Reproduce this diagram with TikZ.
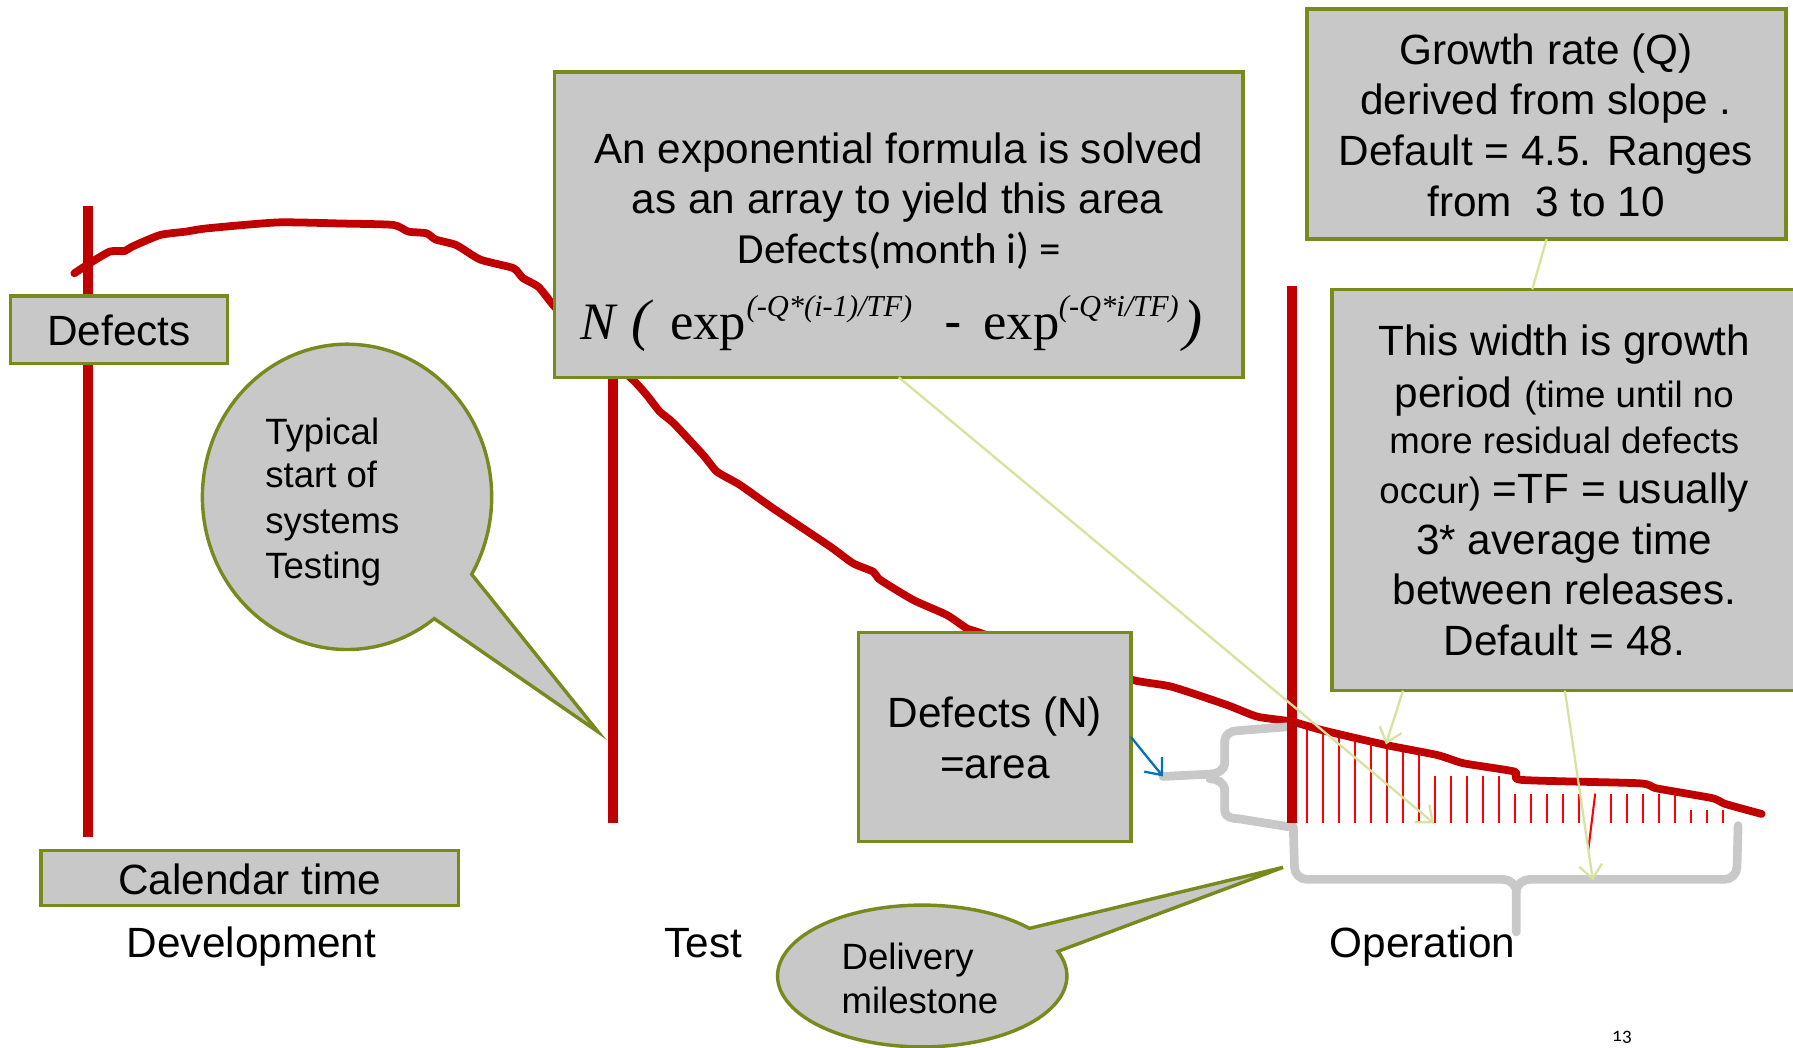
\documentclass[tikz,border=0pt]{standalone}
\usepackage{fontspec}
\setmainfont{Liberation Sans}
\newfontfamily\formfont{Liberation Serif}
\newfontfamily\notefont{Carlito}
\newfontfamily\pagefont[Numbers=OldStyle]{Carlito}
\usetikzlibrary{arrows.meta,calc}

\definecolor{curvered}{RGB}{192,0,0}
\definecolor{hatchred}{RGB}{255,0,0}
\definecolor{panelgray}{RGB}{200,200,200}
\definecolor{paneledge}{RGB}{120,138,30}
\definecolor{leadgreen}{RGB}{214,227,160}
\definecolor{pointerblue}{RGB}{0,112,192}

\newcommand\setsz[1]{\fontsize{#1pt}{#1pt}\selectfont}

\pgfdeclarelayer{background}
\pgfsetlayers{background,main}

\begin{document}
\begin{tikzpicture}[x=0.5pt,y=-0.5pt,
  graybox/.style={draw=paneledge,fill=panelgray,line width=1.5pt,inner sep=0pt,outer sep=0pt},
  bubble/.style={draw=paneledge,fill=panelgray,line width=1.5pt,line join=miter},
  txt/.style={inner sep=0pt,outer sep=0pt,anchor=base,font=\setsz{18.5}},
  txtl/.style={inner sep=0pt,outer sep=0pt,anchor=base west,font=\setsz{16}},
  frm/.style={inner sep=0pt,outer sep=0pt,anchor=base west},
  redaxis/.style={draw=curvered,line width=4.2pt},
  hatchline/.style={draw=hatchred,line width=0.9pt},
  leadline/.style={draw=leadgreen,line width=1pt},
  leadarrow/.style={leadline,-{Straight Barb[length=6pt,width=10pt]}},
  bracestroke/.style={draw=panelgray,line width=3.8pt,line cap=round,line join=round},
]
\useasboundingbox (0,0) rectangle (1568,916);

% ---------- boxes ----------
\node[graybox,minimum width=95pt,minimum height=29.5pt] (defbox) at (104,288.5) {};
\node[graybox,minimum width=182.5pt,minimum height=24pt] (calbox) at (218.5,768) {};
\node[graybox,minimum width=301pt,minimum height=133.5pt] (formbox) at (786,196.5) {};
\node[graybox,minimum width=209.5pt,minimum height=100.5pt] (growbox) at (1352.5,108.5) {};
\node[graybox,minimum width=203.5pt,minimum height=175.5pt] (widthbox) at (1368.5,428.5) {};
\node[graybox,minimum width=119pt,minimum height=91.5pt] (nbox) at (870,644.5) {};

% ---------- axes, curve, hatching and braces underneath ----------
\begin{pgfonlayer}{background}
  \coordinate (yTop) at (77,180);   \coordinate (yBot) at (77,732);
  \coordinate (tTop) at (536,320);  \coordinate (tBot) at (536,720);
  \coordinate (dTop) at (1130,250); \coordinate (dBot) at (1130,720);
  \draw[redaxis] (yTop) -- (yBot);
  \draw[redaxis] (tTop) -- (tBot);

  % defect density under the tail of the curve
  \foreach \hx/\hy in {1143/635,1157/639,1171/642,1185/646,1199/649,1213/652,1227/655,1241/658,
                       1255/679,1269/679,1283/679,1297/679,1311/679,
                       1325/694,1339/694,1353/694,1367/694,1381/694,
                       1409/694,1423/694,1437/694,1451/694,1465/694,
                       1479/708,1493/708,1507/708}
    \draw[hatchline] (\hx,\hy) -- (\hx,720);
  \draw[hatchline] (1395,694) -- (1389,743);

  % defect curve
  \draw[curvered,line width=3.4pt,line join=round,line cap=round]
    plot[smooth,tension=0.35] coordinates {
      (65,239) (78,230.5) (96,220) (109,219.5) (116,215.5) (140,205.5) (163,202.5)
      (181,199.7) (243,194.5) (300,195.5) (344,196.7) (357,202.5) (373,204) (381,209.5)
      (399,214.3) (420,227) (449,234.5) (457,243) (471,251) (484,267) (510,295)
      (552,330.8) (565.5,345.4) (577,360) (589,370) (615,398) (627,412.5) (647,424)
      (676,444.5) (726,478) (746,492.6) (763.7,500) (769.6,507) (798.7,524.7)
      (828,537.8) (845.4,549.5) (854,552.4) (920,575) (990.7,594.7) (1024.5,600.5)
      (1073,616.5) (1099.5,626.7) (1129.6,631) (1155.8,638.4) (1212,651.5)
      (1257,660.3) (1280,667.5) (1324.7,674.8) (1330.4,682) (1433.6,685)
      (1448.6,689.4) (1497.4,698) (1508.6,703) (1540.6,711.8)};

  % braces
  \coordinate (braceTip) at (1017,679);
  \draw[bracestroke] (1127,635.5) -- (1082,639) to[out=180,in=90] (1071,648) -- (1071,667)
        to[out=-90,in=0] (1058,677) -- (braceTip);
  \draw[bracestroke] (1058,681) to[out=0,in=90] (1071,691) -- (1071,709)
        to[out=-90,in=180] (1083,716) -- (1127,723);
  \draw[bracestroke] (1131,723) -- (1132,758) to[out=-90,in=180] (1143,769) -- (1314,769)
        to[out=0,in=90] (1326,780) -- (1326,815);
  \draw[bracestroke] (1326,780) to[out=90,in=180] (1338,769) -- (1508,769)
        to[out=0,in=-90] (1519,758) -- (1520,722);

  \draw[redaxis] (dTop) -- (dBot);
\end{pgfonlayer}

% ---------- speech bubbles ----------
\coordinate (typTip) at (523,640);
\draw[bubble] (303.5,434.5) ++(52.9:126.5 and 133.5)
  arc[start angle=52.9,end angle=390.5,x radius=126.5,y radius=133.5] -- (typTip) -- cycle;
\coordinate (delTip) at (1122,758.5);
\draw[bubble] (806.5,853.5) ++(-20.3:126.5 and 62)
  arc[start angle=-20.3,end angle=317.8,x radius=126.5,y radius=62] -- (delTip) -- cycle;

% ---------- leader lines ----------
\coordinate (areaEnd) at (1254,720);
\coordinate (growEnd) at (1212,651);
\coordinate (widthEnd) at (1393,770);
\draw[leadarrow] (formbox.south) -- (areaEnd);
\draw[leadline] (growbox.south) -- ($(widthbox.north west)!0.43!(widthbox.north east)$);
\draw[leadarrow] ($(widthbox.south west)!0.152!(widthbox.south east)$) -- (growEnd);
\draw[leadarrow] (widthbox.south) -- (widthEnd);
\draw[pointerblue,line width=1pt,-{Straight Barb[length=6pt,width=10pt]}] (nbox.east) -- (braceTip);

% ---------- texts ----------
\node[txt] (defTxt) at (104,302) {Defects};
\node[txt] (calTxt) at (218.5,782) {Calendar time};
\node[txt] (devTxt) at (220,837) {Development};
\node[txt] (testTxt) at (615,837) {Test};
\node[txt] (opTxt) at (1244,837) {Operation};

\node[txt] (formA) at (786,143) {An exponential formula is solved};
\node[txt] (formB) at (785,187) {as an array to yield this area};
\node[txt,font=\notefont\setsz{18.8}] (formC) at (786.5,230) {Defects(month i) =};
\node[frm,font=\formfont\itshape\setsz{23}] (fN) at (508,297) {N};
\node[frm,font=\formfont\itshape\setsz{25}] (fL) at (552,297) {(};
\node[frm,font=\formfont\setsz{23}] (fexpA) at (586,297) {exp};
\node[frm,font=\formfont\itshape\setsz{13.3}] (fsupA) at (653,277) {(-Q*(i-1)/TF)};
\node[frm,font=\setsz{23}] (fminus) at (826,297) {-};
\node[frm,font=\formfont\setsz{23}] (fexpB) at (860,297) {exp};
\node[frm,font=\formfont\itshape\setsz{13.3}] (fsupB) at (926,277) {(-Q*i/TF)};
\node[frm,font=\formfont\itshape\setsz{25}] (fR) at (1035,297) {)};

\node[txt] (growA) at (1352,56) {Growth rate (Q)};
\node[txt] (growB) at (1352,100) {derived from slope .};
\node[txt] (growC) at (1352,145) {Default = 4.5. Ranges};
\node[txt] (growD) at (1352,189) {from\ \ 3 to 10};

\node[txt] (widA) at (1368,311) {This width is growth};
\node[txt] (widB) at (1368,356) {period {\setsz{16}(time until no}};
\node[txt,font=\setsz{16}] (widC) at (1368,397) {more residual defects};
\node[txt] (widD) at (1368,440) {{\setsz{16}occur)} =TF = usually};
\node[txt] (widE) at (1368,485) {3* average time};
\node[txt] (widF) at (1368,529) {between releases.};
\node[txt] (widG) at (1368,573) {Default = 48.};

\node[txt] (nA) at (870,636) {Defects (N)};
\node[txt] (nB) at (870,681) {=area};

\node[txtl] (typA) at (232,388.5) {Typical};
\node[txtl] (typB) at (232,426.5) {start of};
\node[txtl] (typC) at (232,466.5) {systems};
\node[txtl] (typD) at (232,505.5) {Testing};

\node[txtl] (delA) at (736,847.5) {Delivery};
\node[txtl] (delB) at (736,886.5) {milestone};

\node[txt,font=\pagefont\setsz{8.5}] (pgNo) at (1418.5,911) {13};
\end{tikzpicture}
\end{document}
